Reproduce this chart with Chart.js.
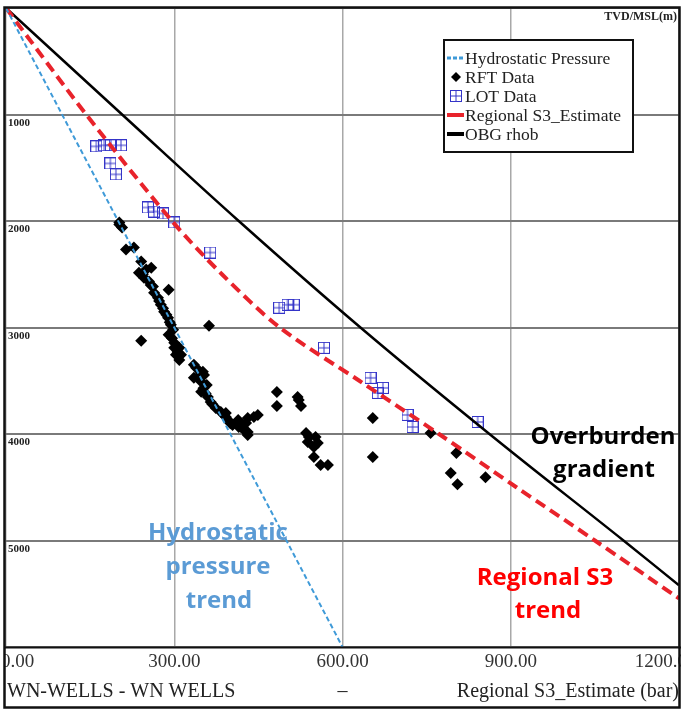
<!DOCTYPE html>
<html>
<head>
<meta charset="utf-8">
<script src="https://cdn.jsdelivr.net/npm/chart.js@4.4.1/dist/chart.umd.min.js"></script>
<style>
  body { margin: 0; background: #fff; }
  canvas { display: block; }
</style>
</head>
<body>
<canvas id="chart" width="685" height="718"></canvas>
<script>
// Axis ticks
const xTicks = [0, 300, 600, 900, 1200];
const xTickLabels = ['0.00', '300.00', '600.00', '900.00', '1200.0'];
const yTicks = [1000, 2000, 3000, 4000, 5000];
const yTickLabels = ['1000', '2000', '3000', '4000', '5000'];

// Hydrostatic pressure trend (depth m, pressure bar)
const hydroDepth = [0, 6000];
const hydroPressure = [0, 600];

// Overburden gradient (OBG rhob)
const obgDepth = [0, 1000, 2000, 3000, 4000, 5000, 5421];
const obgPressure = [0, 207, 415, 632, 862, 1101, 1200];

// Regional S3 estimate
const s3Depth = [0, 1000, 2000, 2500, 3000, 3500, 4000, 4500, 5000, 5544];
const s3Pressure = [0, 143, 296, 385, 488, 630, 772, 910, 1050, 1200];

// RFT data
const rftDepth = [2014, 2033, 2061, 2268, 2249, 2381, 2485, 2456, 2438, 2532, 2569, 2616, 2673,
  2645, 2720, 2786, 2852, 2908, 2984, 2974, 3021, 3125, 3068, 3144, 3191, 3256, 3304, 3191, 3256,
  3379, 3416, 3445, 3473, 3510, 3539, 3604, 3652, 3699, 3755, 3793, 3821, 3868, 3915, 3934, 3896,
  3981, 3802, 3868, 3849, 3840, 3821, 3934, 3981, 4009,
  2500, 2600, 2750, 2820, 2880, 2950, 3100, 3230, 3350, 3460, 3570, 3620, 3720, 3840, 3900,
  3605, 3736, 3652, 3680, 3736, 3991, 4028, 4028, 4075, 4122, 4085, 4216, 4292, 4292,
  3849, 4216, 3991, 4367, 4179, 4471, 4405];
const rftPressure = [202, 202, 207, 214, 228, 241, 237, 250, 259, 246, 255, 262, 264,
  290, 271, 276, 282, 289, 362, 294, 298, 241, 290, 300, 309, 312, 309, 300, 303,
  339, 351, 353, 335, 348, 358, 348, 360, 365, 374, 383, 389, 396, 404, 415, 428,
  431, 392, 414, 431, 442, 449, 419, 428, 431,
  244, 258, 273, 280, 286, 292, 296, 306, 335, 343, 352, 356, 368, 392, 400,
  483, 483, 520, 522, 526, 535, 540, 552, 538, 549, 556, 549, 561, 574,
  654, 654, 757, 793, 803, 805, 855];

// LOT data
const lotDepth = [1299, 1289, 1289, 1289, 1459, 1562, 1873, 1911, 1929, 2014, 2296,
  2814, 2786, 2786, 3191, 3473, 3567, 3614, 3821, 3934, 3887];
const lotPressure = [161, 175, 187, 205, 186, 196, 253, 264, 280, 300, 364,
  487, 502, 513, 567, 650, 672, 663, 716, 725, 841];

const legendLabels = ['Hydrostatic Pressure', 'RFT Data', 'LOT Data', 'Regional S3_Estimate', 'OBG rhob'];

const toPoints = (d, p) => d.map((v, i) => ({ x: p[i], y: v }));

const blue = '#3f9ad8';
const red = '#e8232b';
const lotColor = '#3434c8';

// LOT marker: square with a cross
const lotMark = document.createElement('canvas');
lotMark.width = 12; lotMark.height = 12;
(function () {
  const c = lotMark.getContext('2d');
  c.strokeStyle = lotColor;
  c.lineWidth = 1;
  c.strokeRect(0.5, 0.5, 11, 11);
  c.beginPath();
  c.moveTo(6, 0.5); c.lineTo(6, 11.5);
  c.moveTo(0.5, 6); c.lineTo(11.5, 6);
  c.stroke();
})();

const decor = {
  id: 'decor',
  afterDraw(chart) {
    const ctx = chart.ctx;
    const xs = chart.scales.x, ys = chart.scales.y;
    const a = chart.chartArea;
    ctx.save();

    // x tick labels (first and last are clipped by the frame)
    ctx.font = '19px "Liberation Serif"';
    ctx.fillStyle = '#333';
    ctx.textBaseline = 'middle';
    xTicks.forEach((t, i) => {
      let px = xs.getPixelForValue(t);
      ctx.textAlign = 'center';
      if (i === 0) { ctx.textAlign = 'left'; px = 1; }
      if (i === xTicks.length - 1) { ctx.textAlign = 'right'; px = 687; }
      ctx.fillText(xTickLabels[i], px, 662);
    });
    // white out what falls outside the frame
    ctx.fillStyle = '#fff';
    ctx.fillRect(0, 648, 4, 40);
    ctx.fillRect(681, 648, 4, 40);

    // frame
    ctx.strokeStyle = '#111';
    ctx.lineWidth = 2.5;
    ctx.strokeRect(4.5, 7.5, 675, 700);
    ctx.lineWidth = 2;
    ctx.beginPath();
    ctx.moveTo(4, a.bottom + 0.5); ctx.lineTo(681, a.bottom + 0.5);
    ctx.stroke();

    // y tick labels inside the plot
    ctx.fillStyle = '#222';
    ctx.font = 'bold 11px "Liberation Serif"';
    ctx.textAlign = 'left';
    ctx.textBaseline = 'top';
    yTicks.forEach((t, i) => ctx.fillText(yTickLabels[i], 8, ys.getPixelForValue(t) + 3));

    // depth unit
    ctx.font = 'bold 12px "Liberation Serif"';
    ctx.textAlign = 'right';
    ctx.fillText('TVD/MSL(m)', a.right - 2, 11);

    // footer
    ctx.textBaseline = 'middle';
    ctx.font = '20px "Liberation Serif"';
    ctx.fillStyle = '#222';
    ctx.textAlign = 'left';
    ctx.fillText('WN-WELLS - WN WELLS', 7, 692);
    ctx.textAlign = 'center';
    ctx.fillText('\u2013', xs.getPixelForValue(600), 692);
    ctx.textAlign = 'right';
    ctx.fillText('Regional S3_Estimate (bar)', 679, 692);

    // legend
    const lx = 444, ly = 40, lw = 189, lh = 112;
    ctx.fillStyle = '#fff';
    ctx.fillRect(lx, ly, lw, lh);
    ctx.strokeStyle = '#111';
    ctx.lineWidth = 2;
    ctx.strokeRect(lx, ly, lw, lh);
    ctx.font = '17.5px "Liberation Serif"';
    ctx.textAlign = 'left';
    ctx.fillStyle = '#222';
    legendLabels.forEach((lab, i) => {
      const y = 58 + i * 19;
      ctx.save();
      if (i === 0) {
        ctx.strokeStyle = blue; ctx.lineWidth = 3; ctx.setLineDash([4, 2]);
        ctx.beginPath(); ctx.moveTo(447, y); ctx.lineTo(464, y); ctx.stroke();
      } else if (i === 1) {
        ctx.fillStyle = '#000';
        ctx.beginPath();
        ctx.moveTo(451, y); ctx.lineTo(456, y - 5); ctx.lineTo(461, y); ctx.lineTo(456, y + 5);
        ctx.closePath(); ctx.fill();
      } else if (i === 2) {
        ctx.drawImage(lotMark, 450, y - 6);
      } else {
        ctx.strokeStyle = i === 3 ? red : '#000'; ctx.lineWidth = 4;
        ctx.beginPath(); ctx.moveTo(447, y); ctx.lineTo(464, y); ctx.stroke();
      }
      ctx.restore();
      ctx.fillText(lab, 465, y + 1);
    });

    // trend annotations
    ctx.font = 'bold 24px "Open Sans"';
    ctx.textAlign = 'center';
    ctx.fillStyle = '#000';
    ctx.fillText('Overburden', 603, 437);
    ctx.fillText('gradient', 604, 470);
    ctx.fillStyle = '#5b9bd5';
    ctx.fillText('Hydrostatic', 218, 533);
    ctx.fillText('pressure', 218, 567);
    ctx.fillText('trend', 219, 601);
    ctx.fillStyle = '#ff0000';
    ctx.fillText('Regional S3', 545, 578);
    ctx.fillText('trend', 548, 611);

    ctx.restore();
  }
};

new Chart(document.getElementById('chart'), {
  type: 'scatter',
  data: {
    datasets: [
      {
        label: 'Hydrostatic Pressure', data: toPoints(hydroDepth, hydroPressure),
        showLine: true, borderColor: blue, borderWidth: 2, borderDash: [5, 3],
        pointRadius: 0, order: 1
      },
      {
        label: 'RFT Data', data: toPoints(rftDepth, rftPressure),
        pointStyle: 'rectRot', pointRadius: 6, backgroundColor: '#000', borderColor: '#000',
        borderWidth: 0, order: 5
      },
      {
        label: 'LOT Data', data: toPoints(lotDepth, lotPressure),
        pointStyle: lotMark, order: 4
      },
      {
        label: 'Regional S3_Estimate', data: toPoints(s3Depth, s3Pressure),
        showLine: true, borderColor: red, borderWidth: 4, borderDash: [11, 6],
        tension: 0.3, pointRadius: 0, order: 2
      },
      {
        label: 'OBG rhob', data: toPoints(obgDepth, obgPressure),
        showLine: true, borderColor: '#000', borderWidth: 2.5,
        tension: 0.4, pointRadius: 0, order: 3
      }
    ]
  },
  options: {
    responsive: false,
    animation: false,
    layout: { padding: { left: 5, top: 8, right: 6, bottom: 71 } },
    scales: {
      x: {
        type: 'linear', min: 0, max: 1200,
        ticks: { display: false, stepSize: 300 },
        grid: { color: '#a8a8a8', lineWidth: 1.5, drawTicks: false },
        border: { display: false }
      },
      y: {
        type: 'linear', min: 0, max: 6000, reverse: true,
        ticks: { display: false, stepSize: 1000 },
        grid: { color: '#7a7a7a', lineWidth: 2, drawTicks: false },
        border: { display: false }
      }
    },
    plugins: {
      legend: { display: false },
      tooltip: { enabled: false }
    }
  },
  plugins: [decor]
});
</script>
</body>
</html>
